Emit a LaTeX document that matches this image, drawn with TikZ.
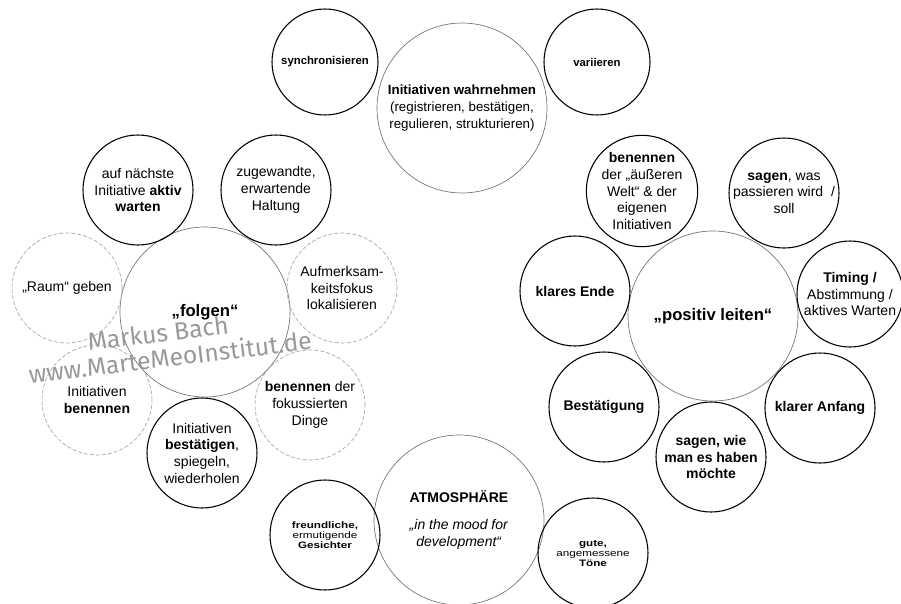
\documentclass[tikz,border=0pt]{standalone}
\usepackage{fontspec}
\setmainfont{Liberation Sans}
\newfontfamily\widesans[FakeStretch=1.25]{Liberation Sans}
\newfontfamily\wmfont{Fira Sans}
\begin{document}
\begin{tikzpicture}[x=0.75pt,y=-0.75pt,
  small/.style={circle, draw=black, line width=0.8pt, minimum size=82.5pt, inner sep=0pt, align=center, font=\fontsize{10.5}{12.5}\selectfont},
  smaller/.style={small, minimum size=79.5pt},
  big/.style={circle, draw=black!55, line width=0.5pt, minimum size=127.5pt, inner sep=0pt, align=center},
  faint/.style={small, draw=black!35, line width=0.5pt, dash pattern=on 3pt off 1.5pt},
  tiny/.style={small, font=\widesans\fontsize{7}{7.5}\selectfont},
  wm/.style={text=black!40, font=\wmfont\fontsize{18.5}{18.5}\selectfont, rotate=7, inner sep=0pt}]
\path[use as bounding box] (0,0) rectangle (901,604);
% top cluster
\node[big, font=\fontsize{10}{13}\selectfont] (wahr) at (462,108) {\textbf{Initiativen wahrnehmen}\\(registrieren, bestätigen,\\regulieren, strukturieren)};
\node[smaller, font=\bfseries\fontsize{8.5}{10}\selectfont] (sync) at (325,62) {synchronisieren};
\node[smaller, font=\bfseries\fontsize{8.5}{10}\selectfont] (vari) at (597,62) {variieren};
% left cluster
\node[big, font=\bfseries\fontsize{12.5}{14}\selectfont] (folgen) at (205,312) {„folgen“};
\node[small] (aktiv) at (138,190) {auf nächste\\Initiative \textbf{aktiv}\\\textbf{warten}};
\node[small] (haltung) at (276,190) {zugewandte,\\erwartende\\Haltung};
\node[faint] (raum) at (67,288) {„Raum“ geben};
\node[faint] (fokus) at (342,288) {Aufmerksam-\\keitsfokus\\lokalisieren};
\node[faint] (benennen) at (97,400) {Initiativen\\\textbf{benennen}};
\node[faint] (dinge) at (310,405) {\textbf{benennen} der\\fokussierten\\Dinge};
\node[small] (bestaetigen) at (202,453) {Initiativen\\\textbf{bestätigen},\\spiegeln,\\wiederholen};
% bottom cluster
\node[big, font=\fontsize{10.5}{13}\selectfont] (atmo) at (459,520) {\textbf{ATMOSPHÄRE}\\[7pt]\textit{„in the mood for}\\\textit{development“}};
\node[tiny] (freund) at (325,535) {\textbf{freundliche,}\\ermutigende\\\textbf{Gesichter}};
\node[tiny] (toene) at (593,553) {\textbf{gute,}\\angemessene\\\textbf{Töne}};
% right cluster
\node[big, font=\bfseries\fontsize{12.5}{14}\selectfont] (leiten) at (713,316) {„positiv leiten“};
\node[small] (welt) at (642,191) {\textbf{benennen}\\der „äußeren\\Welt“ \& der\\eigenen\\Initiativen};
\node[small] (sagen) at (784,193) {\textbf{sagen}, was\\passieren wird~~/\\soll};
\node[small] (ende) at (575,291) {\textbf{klares Ende}};
\node[smaller] (timing) at (850,294) {\textbf{Timing /}\\Abstimmung /\\aktives Warten};
\node[small] (bestaet) at (604,407) {\textbf{Bestätigung}};
\node[small, font=\bfseries\fontsize{10.5}{12.5}\selectfont] (wie) at (711,457) {sagen, wie\\man es haben\\möchte};
\node[small] (anfang) at (820,408) {\textbf{klarer Anfang}};
% watermark
\node[wm] (wm1) at (158,333) {Markus Bach};
\node[wm] (wm2) at (170,357) {www.MarteMeoInstitut.de};
\end{tikzpicture}
\end{document}
